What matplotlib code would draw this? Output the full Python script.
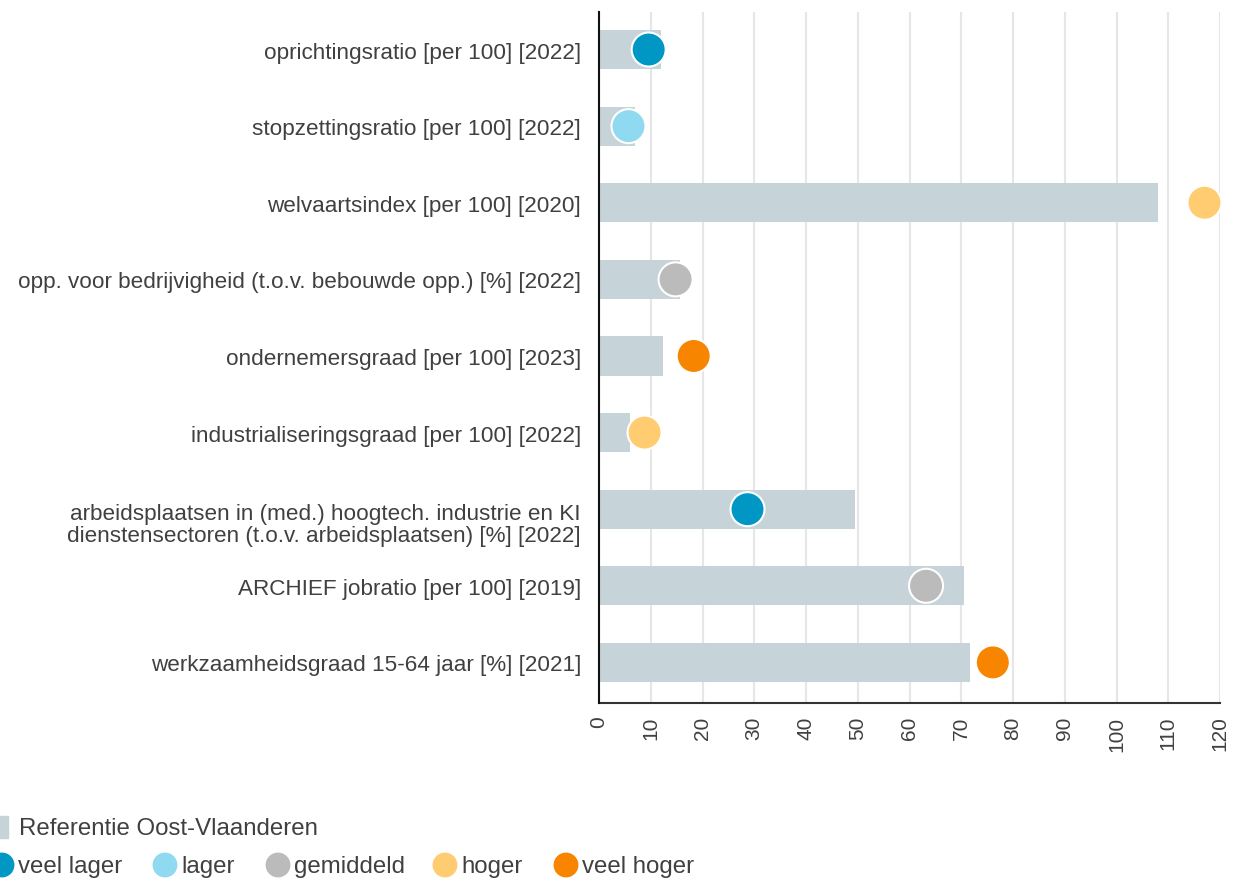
import numpy as np
import matplotlib
matplotlib.use("Agg")
import matplotlib.pyplot as plt
import matplotlib.transforms as mtransforms

plt.rcParams["font.family"] = ["Liberation Sans", "DejaVu Sans"]

# data
labels = [
    "oprichtingsratio [per 100] [2022]",
    "stopzettingsratio [per 100] [2022]",
    "welvaartsindex [per 100] [2020]",
    "opp. voor bedrijvigheid (t.o.v. bebouwde opp.) [%] [2022]",
    "ondernemersgraad [per 100] [2023]",
    "industrialiseringsgraad [per 100] [2022]",
    "arbeidsplaatsen in (med.) hoogtech. industrie en KI\ndienstensectoren (t.o.v. arbeidsplaatsen) [%] [2022]",
    "ARCHIEF jobratio [per 100] [2019]",
    "werkzaamheidsgraad 15-64 jaar [%] [2021]",
]
reference = [12.0, 7.0, 108.0, 15.6, 12.4, 6.0, 49.4, 70.6, 71.6]
values = [9.6, 5.7, 117.0, 14.8, 18.3, 8.8, 28.7, 63.2, 76.1]
classes = ["veel lager", "lager", "hoger", "gemiddeld", "veel hoger",
           "hoger", "veel lager", "gemiddeld", "veel hoger"]

class_names = ["veel lager", "lager", "gemiddeld", "hoger", "veel hoger"]
class_colors = {"veel lager": "#0097c4", "lager": "#8fdaf0", "gemiddeld": "#bbbbbb",
                "hoger": "#ffcc72", "veel hoger": "#f88500"}
bar_color = "#c6d3d9"
text_color = "#404040"

W, H = 1237, 879
fig = plt.figure(figsize=(W / 100, H / 100), dpi=100)
ax = fig.add_axes([599 / W, 1 - 704 / H, (1220 - 599) / W, (704 - 13) / H])

y = np.arange(len(labels))
ax.barh(y, reference, height=0.51, color=bar_color, zorder=2)
ax.scatter(values, y, s=600, c=[class_colors[c] for c in classes],
           edgecolors="white", linewidths=1.5, zorder=3, clip_on=False)

ax.set_xlim(0, 120)
ax.set_ylim(len(labels) - 0.47, -0.49)
ax.set_xticks(np.arange(0, 121, 10))
ax.set_yticks(y)
ax.set_yticklabels(labels, fontsize=16.2, color=text_color, linespacing=1.1)
ax.tick_params(axis="y", length=0, pad=13)
ax.tick_params(axis="x", length=0, pad=9, labelrotation=90, labelsize=15,
               labelcolor=text_color)
# the two-line label sits a bit lower than its bar in the reference
lbl = ax.get_yticklabels()[6]
lbl.set_transform(lbl.get_transform() +
                  mtransforms.ScaledTranslation(0, -12 / 100, fig.dpi_scale_trans))
ax.grid(axis="x", color="#e6e6e6", linewidth=1.5, zorder=0)
for s in ["top", "right"]:
    ax.spines[s].set_visible(False)
ax.spines["left"].set_color("#111111")
ax.spines["left"].set_linewidth(1.5)
ax.spines["bottom"].set_color("#333333")
ax.spines["bottom"].set_linewidth(1.5)
ax.spines["left"].set_zorder(4)

# legend drawn in pixel coordinates
lax = fig.add_axes([0, 0, 1, 1], facecolor="none")
lax.set_xlim(0, W)
lax.set_ylim(H, 0)
lax.axis("off")
lax.add_patch(plt.Rectangle((0, 817), 8, 22, color=bar_color))
lax.text(19, 829, "Referentie Oost-Vlaanderen", fontsize=17.3, color=text_color,
         va="center", ha="left")
dot_x = [2, 165, 278, 445, 566]
for name, dx in zip(class_names, dot_x):
    lax.scatter([dx], [866], s=320, color=class_colors[name], edgecolors="none",
                clip_on=True)
    lax.text(dx + 16, 867, name, fontsize=17.3, color=text_color, va="center",
             ha="left")

fig.savefig("out.png", dpi=100)
